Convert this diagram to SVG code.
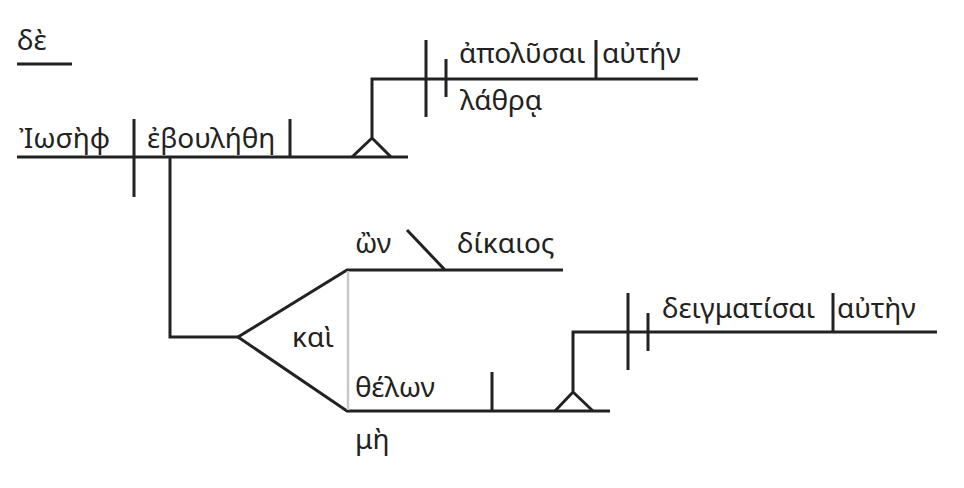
<svg xmlns="http://www.w3.org/2000/svg" width="964" height="488" viewBox="0 0 964 488">
<style>
.l{stroke:#222;stroke-width:3;fill:none;stroke-linecap:butt}
.g{stroke:#c8c8c8;stroke-width:2.5;fill:none}
text{font-family:"Noto Sans","DejaVu Sans",sans-serif;font-size:28px;fill:#222}
</style>
<rect width="964" height="488" fill="#fff"/>
<g id="connectors">
<path class="l" d="M17 64H72"/>
<path class="l" d="M17 157H408M134 119V197M170 157V337H238M290 119V157"/>
<path class="l" d="M352 157L372 138L391 157M372 138V79H698M426 40V117M446 59V97M596 40V79"/>
<path class="l" d="M238 337L347 270H563M407 230L445 270"/>
<path class="l" d="M238 337L347 411H610M492 372V411"/>
<path class="g" d="M348 271V410"/>
<path class="l" d="M555 411L573 392L593 411M573 392V332H937M628 293V370M648 313V351M833 293V332"/>
</g>
<g id="n-de"><text x="17" y="50">δὲ</text></g>
<g id="n-subject"><text x="19" y="148">Ἰωσὴφ</text></g>
<g id="n-verb"><text x="147" y="148">ἐβουλήθη</text></g>
<g id="n-inf1"><text x="459" y="63">ἀπολῦσαι</text></g>
<g id="n-obj1"><text x="602" y="63">αὐτήν</text></g>
<g id="n-adv1"><text x="460" y="110">λάθρᾳ</text></g>
<g id="n-kai"><text x="292" y="347">καὶ</text></g>
<g id="n-on"><text x="355" y="253">ὢν</text></g>
<g id="n-dikaios"><text x="457" y="253">δίκαιος</text></g>
<g id="n-thelon"><text x="355" y="397">θέλων</text></g>
<g id="n-me"><text x="355" y="449">μὴ</text></g>
<g id="n-inf2"><text x="662" y="318">δειγματίσαι</text></g>
<g id="n-obj2"><text x="837" y="318">αὐτὴν</text></g>
</svg>
